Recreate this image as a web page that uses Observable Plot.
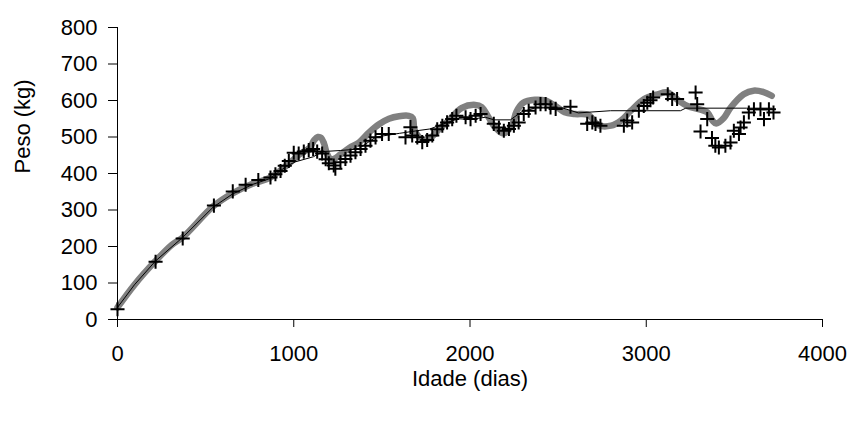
<!DOCTYPE html>
<html>
<head>
<meta charset="utf-8">
<script src="https://cdn.jsdelivr.net/npm/d3@7"></script>
<script src="https://cdn.jsdelivr.net/npm/@observablehq/plot@0.6"></script>
<style>
  html, body { margin: 0; padding: 0; background: #fff; }
  #chart svg { display: block; font-family: "Liberation Sans", Arial, sans-serif; }
</style>
</head>
<body>
<div id="chart"></div>
<script>
// Observed weights (plus markers)
const obsDays = [0,216,370,547,654,727,799,868,896,925,949,972,1000,1028,1057,1085,1110,1133,1161,1181,1199,1227,1236,1265,1293,1322,1350,1379,1407,1435,1464,1501,1539,1634,1662,1672,1701,1729,1757,1786,1814,1843,1870,1899,1923,1975,2003,2032,2060,2135,2164,2192,2221,2249,2276,2305,2333,2372,2400,2429,2457,2486,2570,2665,2694,2712,2740,2873,2892,2920,2958,2986,3006,3024,3039,3122,3147,3175,3280,3289,3308,3346,3373,3392,3412,3449,3478,3497,3526,3535,3554,3582,3611,3648,3668,3696,3722];
const obsKg   = [28,158,222,312,351,369,382,389,398,407,421,434,457,455,460,464,467,460,455,439,428,422,413,431,440,449,458,467,476,490,499,508,508,499,527,504,499,486,492,504,521,531,540,549,558,554,549,558,563,536,526,517,522,531,540,563,572,581,590,590,581,577,583,536,540,536,531,531,545,540,572,585,594,601,608,617,604,604,622,590,515,549,497,476,471,476,485,517,508,526,540,567,576,576,549,576,567];

// Smoothed curve (thick grey line)
const smoothDays = [0,96,215,309,370,543,650,766,864,957,1032,1089,1117,1137,1155,1172,1188,1208,1228,1264,1315,1370,1426,1484,1540,1597,1653,1675,1685,1711,1741,1782,1822,1878,1954,2030,2066,2105,2142,2189,2236,2264,2302,2368,2425,2481,2537,2594,2675,2725,2800,2856,2913,2988,3064,3120,3183,3234,3308,3346,3376,3397,3440,3478,3553,3609,3666,3712];
const smoothKg   = [33,95,160,205,225,310,345,372,388,421,452,470,492,500,498,482,455,440,440,452,470,485,512,535,550,557,558,552,520,500,492,500,520,545,580,588,582,554,527,510,530,570,594,602,600,586,568,563,560,533,531,545,572,604,617,622,600,585,575,568,545,537,552,580,617,627,623,613];

// Fitted curve (thin black line)
const fitDays = [0,96,215,370,543,650,766,864,959,1010,1112,1162,1264,1365,1467,1599,1711,1772,1873,1934,1995,2087,2137,2229,2290,2371,2523,2615,2797,3194,3224,3569,3711];
const fitKg   = [33,95,160,225,308,343,370,386,420,432,446,460,463,467,500,510,518,522,540,550,548,554,547,547,568,580,580,566,572,572,579,579,579];

const xTicks = [0,1000,2000,3000,4000];
const yTicks = [0,100,200,300,400,500,600,700,800];

const obs = obsDays.map((d,i) => ({day: d, kg: obsKg[i]}));
const smooth = smoothDays.map((d,i) => ({day: d, kg: smoothKg[i]}));
const fit = fitDays.map((d,i) => ({day: d, kg: fitKg[i]}));

const FS = 22;
const chart = Plot.plot({
  width: 867,
  height: 421,
  marginLeft: 117,
  marginRight: 45,
  marginTop: 27,
  marginBottom: 102,
  style: {fontFamily: '"Liberation Sans", Arial, sans-serif', fontSize: FS + "px", color: "#000", background: "#fff"},
  x: {domain: [0,4000]},
  y: {domain: [0,800]},
  marks: [
    Plot.line(smooth, {x: "day", y: "kg", stroke: "#808080", strokeWidth: 6.5, curve: "catmull-rom", strokeLinecap: "round", strokeLinejoin: "round"}),
    Plot.line(fit, {x: "day", y: "kg", stroke: "#000", strokeWidth: 1}),
    Plot.dot(obs, {x: "day", y: "kg", symbol: "plus", r: 4.6, stroke: "#000", strokeWidth: 2}),
    Plot.ruleX([0], {stroke: "#000", strokeWidth: 1}),
    Plot.ruleY([0], {stroke: "#000", strokeWidth: 1}),
    Plot.axisX({ticks: xTicks, tickSize: 8, tickPadding: 18, tickFormat: d => String(d), label: null, fontSize: FS}),
    Plot.axisY({ticks: yTicks, tickSize: 9, tickPadding: 11, tickFormat: d => String(d), label: null, fontSize: FS}),
    Plot.text(["Peso (kg)"], {frameAnchor: "left", dx: -95, rotate: -90, fontSize: FS, fill: "#000"}),
    Plot.text(["Idade (dias)"], {frameAnchor: "bottom", dy: 66, fontSize: FS, fill: "#000"})
  ]
});
document.getElementById("chart").appendChild(chart);
</script>
</body>
</html>
